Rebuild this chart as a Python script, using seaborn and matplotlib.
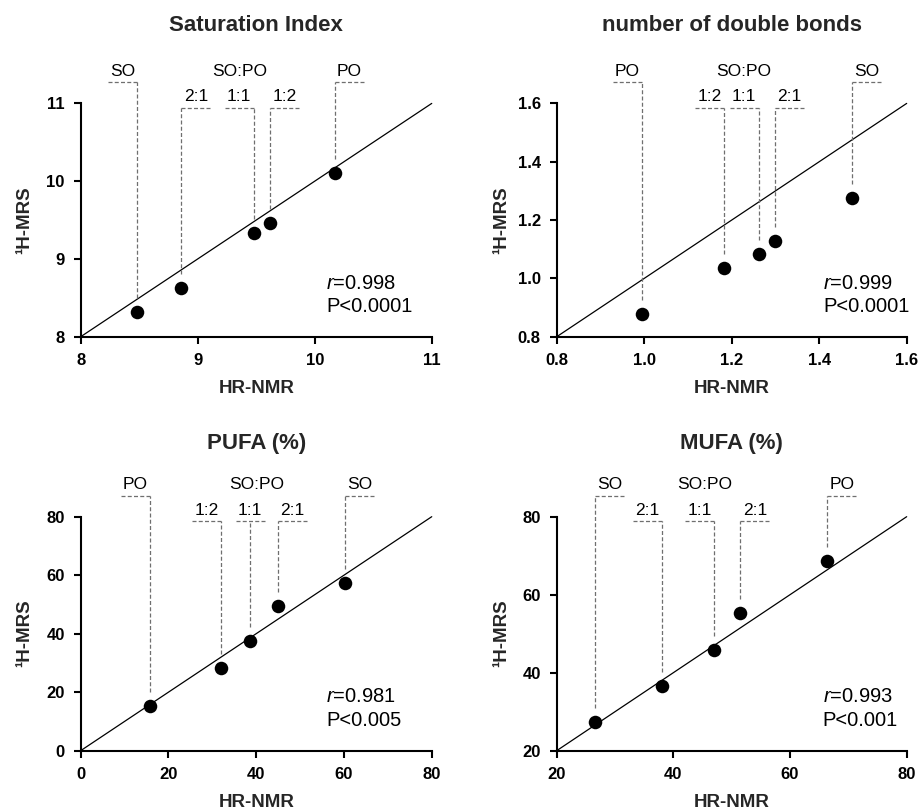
import matplotlib
matplotlib.use("Agg")
import matplotlib.pyplot as plt
import seaborn as sns
import pandas as pd

sns.set_theme(style="ticks")
plt.rcParams['font.family'] = ['Liberation Sans', 'DejaVu Sans']
plt.rcParams['mathtext.fontset'] = 'custom'
plt.rcParams['mathtext.rm'] = 'Liberation Sans'
plt.rcParams['mathtext.it'] = 'Liberation Sans:italic'
plt.rcParams['mathtext.bf'] = 'Liberation Sans:bold'

# ---------------- data ----------------
titles = ["Saturation Index", "number of double bonds", "PUFA (%)", "MUFA (%)"]
limits = [(8, 11), (0.8, 1.6), (0, 80), (20, 80)]
ticks = [[8, 9, 10, 11], [0.8, 1.0, 1.2, 1.4, 1.6], [0, 20, 40, 60, 80], [20, 40, 60, 80]]
tick_labels = [["8", "9", "10", "11"], ["0.8", "1.0", "1.2", "1.4", "1.6"],
               ["0", "20", "40", "60", "80"], ["20", "40", "60", "80"]]

x_sat = [8.48, 8.86, 9.48, 9.62, 10.17]
y_sat = [8.32, 8.63, 9.34, 9.46, 10.11]
lab_sat = ["SO", "2:1", "1:1", "1:2", "PO"]

x_db = [0.994, 1.183, 1.262, 1.299, 1.476]
y_db = [0.878, 1.034, 1.083, 1.128, 1.277]
lab_db = ["PO", "1:2", "1:1", "2:1", "SO"]

x_pufa = [15.8, 32.0, 38.6, 44.9, 60.3]
y_pufa = [15.3, 28.1, 37.6, 49.5, 57.3]
lab_pufa = ["PO", "1:2", "1:1", "2:1", "SO"]

x_mufa = [26.6, 38.0, 47.0, 51.5, 66.4]
y_mufa = [27.3, 36.7, 45.8, 55.2, 68.7]
lab_mufa = ["SO", "2:1", "1:1", "2:1", "PO"]

# which labels sit at the upper level (pure oils)
top_level = [[True, False, False, False, True]] * 4
# direction of the horizontal leader segment: -1 left, +1 right, 0 centred
sides = [[-1, 1, -1, 1, 1], [-1, -1, -1, 1, 1], [-1, -1, 0, 1, 1], [1, -1, -1, 1, 1]]
group_label_x = [9.36, 1.227, 40.0, 45.3]

r_texts = ["$r$=0.998", "$r$=0.999", "$r$=0.981", "$r$=0.993"]
p_texts = ["P<0.0001", "P<0.0001", "P<0.005", "P<0.001"]
stat_x = [0.70, 0.762, 0.70, 0.76]

xs = [x_sat, x_db, x_pufa, x_mufa]
ys = [y_sat, y_db, y_pufa, y_mufa]
labs = [lab_sat, lab_db, lab_pufa, lab_mufa]

# ---------------- figure ----------------
fig = plt.figure(figsize=(9.19, 8.11), dpi=100)
positions = [[0.0878, 0.5848, 0.382, 0.2877],
             [0.6058, 0.5848, 0.3808, 0.2877],
             [0.0878, 0.0744, 0.382, 0.2885],
             [0.6058, 0.0744, 0.3808, 0.2885]]
title_y = [1.31, 1.31, 1.29, 1.29]

lead_color = "#6f6f6f"
dash = (0, (3.2, 1.8))

for i in range(4):
    ax = fig.add_axes(positions[i])
    lo, hi = limits[i]
    df = pd.DataFrame({"HR-NMR": xs[i], "1H-MRS": ys[i], "label": labs[i]})

    # identity line
    ax.plot([lo, hi], [lo, hi], color="black", lw=0.9, zorder=2, clip_on=False)
    sns.scatterplot(data=df, x="HR-NMR", y="1H-MRS", ax=ax, color="black",
                    s=95, linewidth=0, zorder=3, legend=False)

    ax.set_xlim(lo, hi)
    ax.set_ylim(lo, hi)
    ax.set_xticks(ticks[i])
    ax.set_xticklabels(tick_labels[i], fontweight="bold", fontsize=12)
    ax.set_yticks(ticks[i])
    ax.set_yticklabels(tick_labels[i], fontweight="bold", fontsize=12)
    ax.tick_params(direction="out", length=5, width=1.5, pad=6.5, colors="black")
    for s in ["top", "right"]:
        ax.spines[s].set_visible(False)
    for s in ["left", "bottom"]:
        ax.spines[s].set_linewidth(1.5)
        ax.spines[s].set_color("black")

    ax.set_xlabel("HR-NMR", fontsize=13.5, fontweight="bold", va="center")
    ax.xaxis.set_label_coords(0.5, -0.222)
    ax.set_ylabel("\u00b9H-MRS", fontsize=13.5, fontweight="bold", va="center")
    ax.yaxis.set_label_coords(-0.158, 0.5)

    ax.set_title(titles[i], fontsize=16, fontweight="bold", y=title_y[i], pad=0)

    # leader lines & labels (axes-fraction coordinates)
    rng = hi - lo
    seg = 0.083
    gap = 0.06
    for j in range(5):
        fx = (xs[i][j] - lo) / rng
        fy = (ys[i][j] - lo) / rng
        level = 1.09 if top_level[i][j] else 0.98
        ax.plot([fx, fx], [fy + gap, level], transform=ax.transAxes, clip_on=False,
                color=lead_color, lw=0.9, ls=dash)
        sd = sides[i][j]
        if sd == 0:
            x0, x1 = fx - seg / 2, fx + seg / 2
        else:
            x0, x1 = fx, fx + sd * seg
        ax.plot([x0, x1], [level, level], transform=ax.transAxes, clip_on=False,
                color=lead_color, lw=0.9, ls=dash)
        ax.text((x0 + x1) / 2, level + 0.016, labs[i][j], transform=ax.transAxes,
                ha="center", va="bottom", fontsize=12.5, color="black")
    gx = (group_label_x[i] - lo) / rng
    ax.text(gx, 1.09 + 0.016, "SO:PO", transform=ax.transAxes, ha="center",
            va="bottom", fontsize=12.5, color="black")

    ax.text(stat_x[i], 0.23, r_texts[i], transform=ax.transAxes, ha="left",
            va="center", fontsize=14.5, color="black")
    ax.text(stat_x[i], 0.128, p_texts[i], transform=ax.transAxes, ha="left",
            va="center", fontsize=14.5, color="black")

fig.savefig("out.png", dpi=100)
